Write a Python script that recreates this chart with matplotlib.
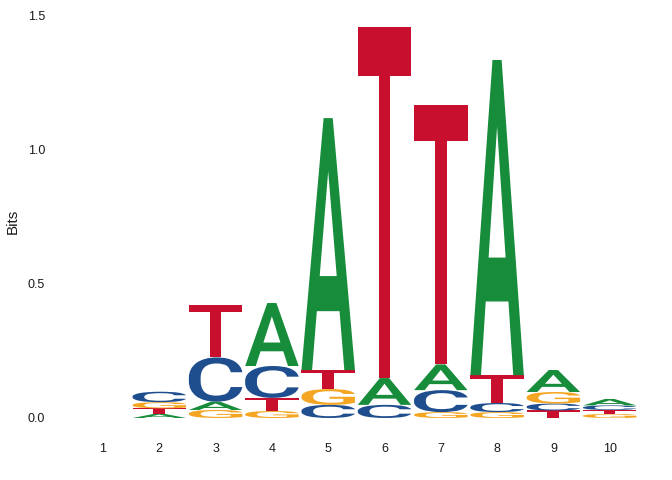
import matplotlib
matplotlib.use("Agg")
import matplotlib.pyplot as plt
from matplotlib.textpath import TextPath
from matplotlib.font_manager import FontProperties
from matplotlib.patches import PathPatch
from matplotlib.path import Path
import numpy as np

# Data: per position, letters listed bottom -> top with heights (bits)
positions = [1, 2, 3, 4, 5, 6, 7, 8, 9, 10]
letters = [
    [],
    ["A", "T", "G", "C"],
    ["G", "A", "C", "T"],
    ["G", "T", "C", "A"],
    ["C", "G", "T", "A"],
    ["C", "A", "T"],
    ["G", "C", "A", "T"],
    ["G", "C", "T", "A"],
    ["T", "C", "G", "A"],
    ["G", "T", "C", "A"],
]
heights = [
    [],
    [0.016, 0.020, 0.023, 0.039],
    [0.030, 0.031, 0.165, 0.196],
    [0.026, 0.049, 0.119, 0.235],
    [0.049, 0.059, 0.071, 0.940],
    [0.049, 0.100, 1.310],
    [0.022, 0.082, 0.096, 0.968],
    [0.022, 0.034, 0.104, 1.176],
    [0.028, 0.026, 0.043, 0.082],
    [0.015, 0.015, 0.017, 0.024],
]
colors = {"A": "#178C3A", "C": "#1F4E8E", "G": "#F4A623", "T": "#C8102E"}
yticks = [0.0, 0.5, 1.0, 1.5]
ytick_labels = ["0.0", "0.5", "1.0", "1.5"]

W, H = 672, 480
fig = plt.figure(figsize=(6.72, 4.8), dpi=100)
left_px, right_px, top_px, bottom_px = 52, 665, 10, 430
ax = fig.add_axes([left_px / W, (H - bottom_px) / H,
                   (right_px - left_px) / W, (bottom_px - top_px) / H])

def px2x(p):
    return 1 + (p - 103) / 56.3
def px2y(p):
    return (418 - p) / 268.0

ax.set_xlim(px2x(left_px), px2x(right_px))
ax.set_ylim(px2y(bottom_px), px2y(top_px))

prop = FontProperties(family="Roboto", weight="medium")
col_width = 0.95

def draw_letter(ch, xc, y0, h, color):
    tp = TextPath((0, 0), ch, size=1, prop=prop)
    ext = tp.get_extents()
    verts = tp.vertices.copy()
    verts[:, 0] = (verts[:, 0] - ext.x0) / ext.width * col_width + (xc - col_width / 2)
    verts[:, 1] = (verts[:, 1] - ext.y0) / ext.height * h + y0
    path = Path(verts, tp.codes)
    ax.add_patch(PathPatch(path, facecolor=color, edgecolor="none", lw=0))

for pos, lets, hs in zip(positions, letters, heights):
    y = 0.0
    for ch, h in zip(lets, hs):
        draw_letter(ch, pos, y, h, colors[ch])
        y += h

for s in ax.spines.values():
    s.set_visible(False)
ax.set_xticks(positions)
ax.set_xticklabels([str(p) for p in positions])
ax.set_yticks(yticks)
ax.set_yticklabels(ytick_labels)
ax.tick_params(axis="both", length=0, labelsize=9, labelcolor="#1a1a1a")
ax.tick_params(axis="x", pad=9)
ax.tick_params(axis="y", pad=5)
for lab in ax.get_xticklabels() + ax.get_yticklabels():
    lab.set_fontfamily("Liberation Sans")
ax.set_ylabel("Bits", fontsize=11, family="Liberation Sans", color="#1a1a1a")
ax.yaxis.set_label_coords(20 / W, (H - 221) / H, transform=fig.transFigure)

fig.savefig("out.png", dpi=100)
